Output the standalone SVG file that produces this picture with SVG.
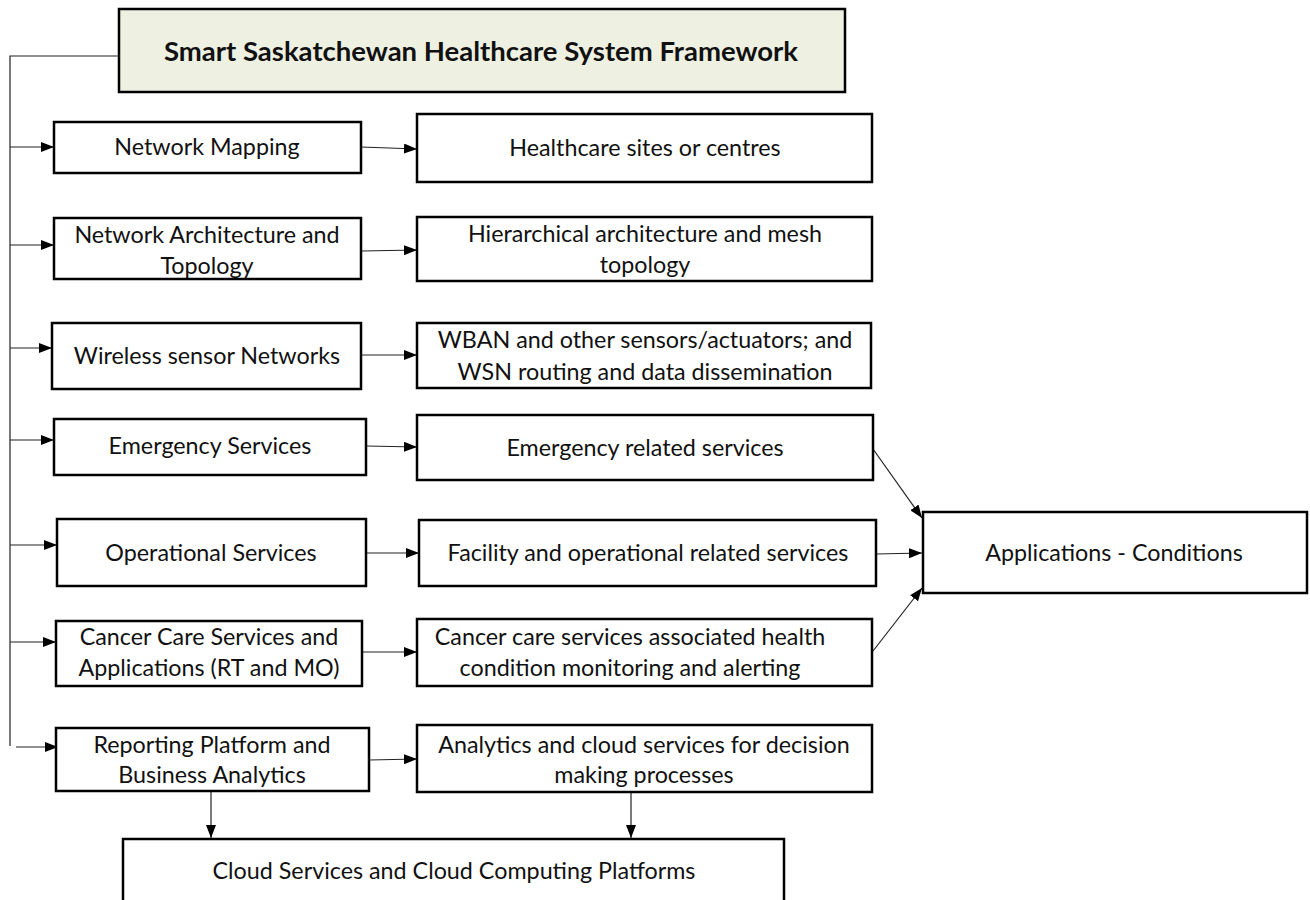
<svg xmlns="http://www.w3.org/2000/svg" width="1310" height="900" viewBox="0 0 1310 900">
<style>
.box{fill:#fff;stroke:#000;stroke-width:2.5}
.title{fill:#eef0e1;stroke:#000;stroke-width:2.5}
text{font-family:Lato,"Open Sans",sans-serif;font-size:23.3px;fill:#111;text-anchor:middle}
.tt{font-weight:bold;font-size:27.5px}
.ln{fill:none;stroke:#222;stroke-width:1.2}
</style>
<defs>
<marker id="ah" viewBox="0 0 13 10" refX="13" refY="5" markerWidth="13" markerHeight="10" markerUnits="userSpaceOnUse" orient="auto">
<path d="M0,0 L13,5 L0,10 Z" fill="#000"/>
</marker>
</defs>
<g id="connectors">
<path class="ln" d="M119,56 H10 V746"/>
<path class="ln" d="M10,147 H54" marker-end="url(#ah)"/>
<path class="ln" d="M10,245 H54" marker-end="url(#ah)"/>
<path class="ln" d="M10,348 H52" marker-end="url(#ah)"/>
<path class="ln" d="M10,440 H54" marker-end="url(#ah)"/>
<path class="ln" d="M10,545 H57" marker-end="url(#ah)"/>
<path class="ln" d="M10,642 H56" marker-end="url(#ah)"/>
<path class="ln" d="M16,747 H58" marker-end="url(#ah)"/>
<path class="ln" d="M361,147 L417,149" marker-end="url(#ah)"/>
<path class="ln" d="M361,251 L417,250" marker-end="url(#ah)"/>
<path class="ln" d="M361,355 L417,355" marker-end="url(#ah)"/>
<path class="ln" d="M366,446 L417,447" marker-end="url(#ah)"/>
<path class="ln" d="M366,553 L419,553" marker-end="url(#ah)"/>
<path class="ln" d="M362,652 L417,652" marker-end="url(#ah)"/>
<path class="ln" d="M369,760 L417,759" marker-end="url(#ah)"/>
<path class="ln" d="M873,449 L922,518" marker-end="url(#ah)"/>
<path class="ln" d="M876,554 L922,553" marker-end="url(#ah)"/>
<path class="ln" d="M873,651 L922,588" marker-end="url(#ah)"/>
<path class="ln" d="M211,791 V838" marker-end="url(#ah)"/>
<path class="ln" d="M631,792 V838" marker-end="url(#ah)"/>
</g>
<g id="title"><rect class="title" x="119" y="9" width="726" height="83"/><text class="tt" x="481" y="61">Smart Saskatchewan Healthcare System Framework</text></g>
<g id="n1"><rect class="box" x="54" y="122" width="307" height="51"/><text x="207" y="155">Network Mapping</text></g>
<g id="n2"><rect class="box" x="54" y="218" width="307" height="61"/><text x="207" y="243">Network Architecture and</text><text x="207" y="274">Topology</text></g>
<g id="n3"><rect class="box" x="52" y="323" width="309" height="66"/><text x="207" y="364">Wireless sensor Networks</text></g>
<g id="n4"><rect class="box" x="54" y="419" width="312" height="56"/><text x="210" y="454">Emergency Services</text></g>
<g id="n5"><rect class="box" x="57" y="519" width="309" height="67"/><text x="211" y="561">Operational Services</text></g>
<g id="n6"><rect class="box" x="56" y="621" width="306" height="65"/><text x="209" y="645">Cancer Care Services and</text><text x="209" y="676">Applications (RT and MO)</text></g>
<g id="n7"><rect class="box" x="56" y="728" width="313" height="63"/><text x="212" y="753">Reporting Platform and</text><text x="212" y="783">Business Analytics</text></g>
<g id="r1"><rect class="box" x="417" y="114" width="455" height="68"/><text x="645" y="156">Healthcare sites or centres</text></g>
<g id="r2"><rect class="box" x="417" y="217" width="455" height="64"/><text x="645" y="242">Hierarchical architecture and mesh</text><text x="645" y="273">topology</text></g>
<g id="r3"><rect class="box" x="417" y="323" width="454" height="65"/><text x="645" y="348">WBAN and other sensors/actuators; and</text><text x="645" y="380">WSN routing and data dissemination</text></g>
<g id="r4"><rect class="box" x="417" y="415" width="456" height="65"/><text x="645" y="456">Emergency related services</text></g>
<g id="r5"><rect class="box" x="419" y="520" width="457" height="66"/><text x="648" y="561">Facility and operational related services</text></g>
<g id="r6"><rect class="box" x="417" y="619" width="455" height="67"/><text x="630" y="645">Cancer care services associated health</text><text x="630" y="676">condition monitoring and alerting</text></g>
<g id="r7"><rect class="box" x="417" y="725" width="455" height="67"/><text x="644" y="753">Analytics and cloud services for decision</text><text x="644" y="783">making processes</text></g>
<g id="apps"><rect class="box" x="923" y="512" width="384" height="81"/><text x="1114" y="561">Applications - Conditions</text></g>
<g id="cloud"><rect class="box" x="123" y="839" width="661" height="80"/><text x="454" y="879">Cloud Services and Cloud Computing Platforms</text></g>
</svg>
